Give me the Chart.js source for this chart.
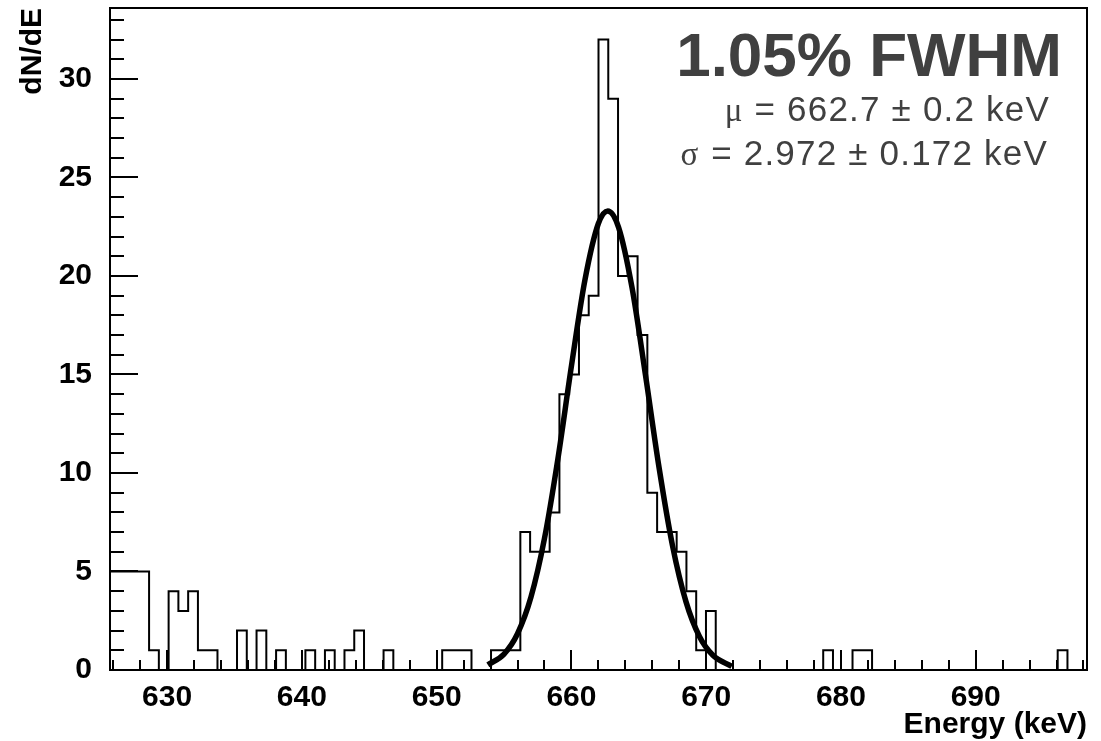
<!DOCTYPE html>
<html>
<head>
<meta charset="utf-8">
<script src="https://cdn.jsdelivr.net/npm/chart.js@4.4.1/dist/chart.umd.min.js"></script>
<style>
html, body { margin: 0; padding: 0; background: #fff; }
#wrap { width: 1101px; height: 741px; }
</style>
</head>
<body>
<div id="wrap"><canvas id="histChart" width="1101" height="741"></canvas></div>
<script>
// Histogram: 100 bins of 0.725 keV starting at 625.76 keV
const binLow = 625.76;
const binWidth = 0.725;
const binCounts = [
    5, 5, 5, 5, 1, 0, 4, 3, 4, 1,
    1, 0, 0, 2, 0, 2, 0, 1, 0, 0,
    1, 0, 1, 0, 1, 2, 0, 0, 1, 0,
    0, 0, 0, 0, 1, 1, 1, 0, 0, 1,
    1, 1, 7, 6, 6, 8, 14, 15, 18, 19,
    32, 29, 20, 21, 17, 9, 7, 7, 6, 4,
    1, 3, 0, 0, 0, 0, 0, 0, 0, 0,
    0, 0, 0, 1, 0, 0, 1, 1, 0, 0,
    0, 0, 0, 0, 0, 0, 0, 0, 0, 0,
    0, 0, 0, 0, 0, 0, 0, 1, 0, 0
];

// Gaussian fit curve
const fitEnergy = [653.8, 655, 656, 657, 658, 659, 660, 661, 662, 662.7, 663.5, 664.5, 665.5, 666.5, 667.5, 668.5, 669.5, 670.5, 671.9];
const fitValues = [0.26, 0.81, 1.84, 3.7, 6.67, 10.73, 15.42, 19.78, 22.66, 23.3, 22.47, 19.4, 14.95, 10.29, 6.32, 3.47, 1.7, 0.75, 0.19];

// Axes
const xRange = [625.76, 698.26];
const yRange = [0, 33.6];
const xTickLabels = [630, 640, 650, 660, 670, 680, 690];
const yTickLabels = [0, 5, 10, 15, 20, 25, 30];

// Fit result text
const fwhmText = '1.05% FWHM';
const muText = ['\u03bc', '= 662.7 \u00b1 0.2 keV'];
const sigmaText = ['\u03c3', '= 2.972 \u00b1 0.172 keV'];

const sansFont = "'Liberation Sans', Arial, Helvetica, sans-serif";

const histPoints = binCounts.map((c, i) => ({ x: binLow + i * binWidth, y: c }));
histPoints.push({ x: binLow + binCounts.length * binWidth, y: 0 });
const fitPoints = fitEnergy.map((e, i) => ({ x: e, y: fitValues[i] }));

// no extra room for labels sticking out of the axes
function fixBox(size, key) {
    return s => {
        s[key] = size;
        s.paddingTop = 0; s.paddingBottom = 0;
        s.paddingLeft = 0; s.paddingRight = 0;
    };
}

// ROOT-like frame, inward ticks and fit text
const rootFrame = {
    id: 'rootFrame',
    afterDatasetsDraw(chart) {
        const { ctx, chartArea: a, scales: { x, y } } = chart;
        ctx.save();
        ctx.strokeStyle = '#000';
        ctx.lineWidth = 2;
        ctx.strokeRect(a.left, a.top, a.right - a.left, a.bottom - a.top);

        ctx.beginPath();
        for (let v = Math.ceil(xRange[0] / 2) * 2; v <= xRange[1]; v += 2) {
            const px = Math.round(x.getPixelForValue(v));
            const len = xTickLabels.includes(v) ? 20 : 10;
            ctx.moveTo(px, a.bottom);
            ctx.lineTo(px, a.bottom - len);
        }
        for (let v = 0; v <= yRange[1]; v++) {
            const py = Math.round(y.getPixelForValue(v));
            const len = yTickLabels.includes(v) ? 28 : 14;
            ctx.moveTo(a.left, py);
            ctx.lineTo(a.left + len, py);
        }
        ctx.stroke();

        // fit summary, top right
        ctx.fillStyle = '#404040';
        ctx.textAlign = 'right';
        ctx.textBaseline = 'alphabetic';
        ctx.font = 'bold 62px ' + sansFont;
        ctx.fillText(fwhmText, a.right - 25, a.top + 68);

        const lines = [[muText, a.top + 113, 37, 12], [sigmaText, a.top + 157, 39, 13]];
        lines.forEach(([parts, base, inset, gap]) => {
            ctx.font = '35px ' + sansFont;
            ctx.letterSpacing = '1.2px';
            const right = a.right - inset;
            ctx.fillText(parts[1], right, base);
            const w = ctx.measureText(parts[1]).width;
            ctx.letterSpacing = '0px';
            ctx.font = '33px ' + "'Liberation Serif', 'DejaVu Serif', serif";
            ctx.fillText(parts[0], right - w - gap, base);
        });
        ctx.restore();
    }
};

new Chart(document.getElementById('histChart').getContext('2d'), {
    type: 'line',
    data: {
        datasets: [{
            label: 'counts',
            data: histPoints,
            stepped: 'before',
            borderColor: '#000',
            borderWidth: 2,
            pointRadius: 0,
            fill: false
        }, {
            label: 'gaus fit',
            data: fitPoints,
            borderColor: '#000',
            borderWidth: 5.5,
            pointRadius: 0,
            cubicInterpolationMode: 'monotone',
            fill: false
        }]
    },
    options: {
        responsive: false,
        animation: false,
        layout: { padding: { left: 0, right: 14, top: 8, bottom: 0 } },
        plugins: {
            legend: { display: false },
            tooltip: { enabled: false }
        },
        scales: {
            x: {
                type: 'linear',
                min: xRange[0],
                max: xRange[1],
                grid: { display: false },
                border: { display: false },
                ticks: {
                    stepSize: 10,
                    includeBounds: false,
                    autoSkip: false,
                    maxRotation: 0,
                    padding: 2,
                    color: '#000',
                    font: { family: sansFont, size: 30, weight: 'bold' },
                    callback: v => xTickLabels.includes(v) ? String(v) : ''
                },
                title: {
                    display: true,
                    text: 'Energy (keV)',
                    align: 'end',
                    color: '#000',
                    padding: { top: 0, bottom: -2 },
                    font: { family: sansFont, size: 30, weight: 'bold' }
                },
                afterFit: fixBox(71, 'height')
            },
            y: {
                min: yRange[0],
                max: yRange[1],
                grid: { display: false },
                border: { display: false },
                ticks: {
                    stepSize: 5,
                    includeBounds: false,
                    autoSkip: false,
                    padding: 10,
                    color: '#000',
                    font: { family: sansFont, size: 30, weight: 'bold' },
                    callback: v => yTickLabels.includes(v) ? String(v) : ''
                },
                title: {
                    display: true,
                    text: 'dN/dE',
                    align: 'end',
                    color: '#000',
                    padding: { top: 15, bottom: 0 },
                    font: { family: sansFont, size: 30, weight: 'bold' }
                },
                afterFit: fixBox(110, 'width')
            }
        }
    },
    plugins: [rootFrame]
});
</script>
</body>
</html>
